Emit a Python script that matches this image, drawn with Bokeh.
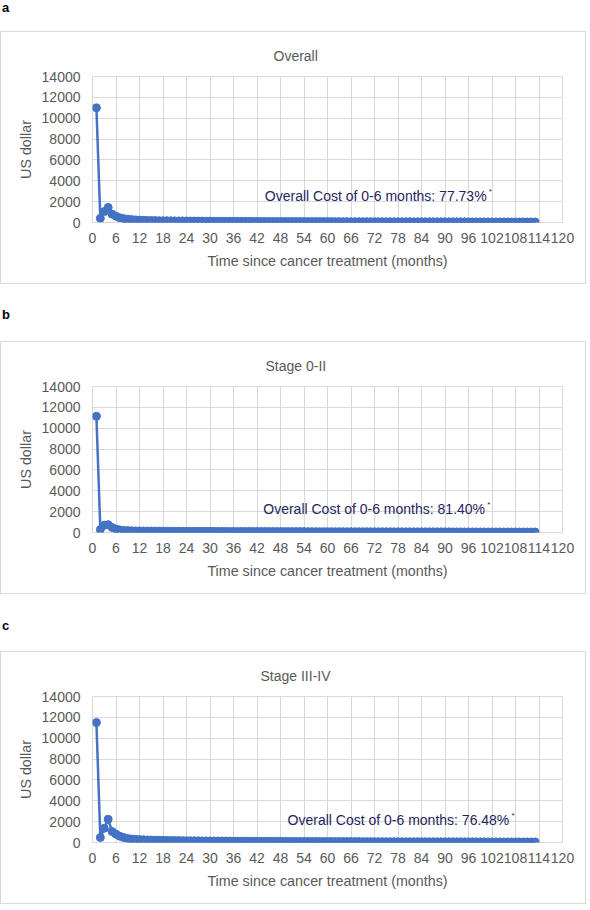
from bokeh.plotting import figure
from bokeh.models import FixedTicker, Label, Div, Range1d
from bokeh.layouts import column
from bokeh.embed import file_html
from bokeh.resources import INLINE

# ---------------- data ----------------
months = list(range(1, 114))

overall = [
    11000, 400, 1050, 1450, 800, 600, 450, 370, 320, 280,
    250, 230, 210, 200, 190, 180, 175, 170, 165, 160,
    155, 150, 148, 145, 140, 138, 135, 132, 130, 128,
    125, 122, 120, 118, 116, 115, 113, 112, 110, 108,
    106, 105, 104, 102, 100, 99, 98, 97, 96, 95,
    94, 93, 92, 91, 90, 89, 88, 87, 86, 85,
    84, 83, 82, 82, 81, 80, 79, 78, 78, 77,
    76, 75, 75, 74, 73, 72, 72, 71, 70, 70,
    69, 68, 68, 67, 66, 66, 65, 64, 64, 63,
    62, 62, 61, 60, 60, 59, 58, 58, 57, 57,
    56, 55, 55, 54, 54, 53, 52, 52, 51, 51,
    50, 50, 49,
]

stage_0_2 = [
    11150, 280, 700, 750, 480, 330, 250, 200, 180, 165,
    155, 150, 145, 140, 138, 135, 132, 130, 128, 126,
    124, 122, 120, 118, 117, 115, 114, 112, 110, 109,
    108, 106, 105, 104, 102, 101, 100, 99, 98, 97,
    96, 95, 94, 93, 92, 91, 90, 89, 88, 87,
    86, 85, 84, 84, 83, 82, 81, 80, 80, 79,
    78, 77, 77, 76, 75, 75, 74, 73, 73, 72,
    71, 71, 70, 69, 69, 68, 68, 67, 66, 66,
    65, 65, 64, 64, 63, 62, 62, 61, 61, 60,
    60, 59, 59, 58, 58, 57, 57, 56, 56, 55,
    55, 54, 54, 53, 53, 52, 52, 51, 51, 50,
    50, 49, 49,
]

stage_3_4 = [
    11500, 480, 1370, 2230, 1050, 800, 600, 470, 380, 330,
    300, 280, 260, 245, 235, 225, 215, 205, 198, 190,
    185, 180, 175, 170, 166, 162, 158, 155, 152, 149,
    146, 143, 140, 138, 135, 133, 131, 129, 127, 125,
    123, 121, 119, 117, 115, 113, 112, 110, 108, 107,
    105, 104, 102, 101, 99, 98, 97, 95, 94, 93,
    92, 90, 89, 88, 87, 86, 85, 84, 83, 82,
    81, 80, 79, 78, 77, 77, 76, 75, 74, 73,
    72, 72, 71, 70, 69, 69, 68, 67, 67, 66,
    65, 65, 64, 63, 63, 62, 62, 61, 60, 60,
    59, 59, 58, 58, 57, 57, 56, 56, 55, 55,
    54, 54, 53,
]

panel_letters = ["a", "b", "c"]
panel_titles = ["Overall", "Stage 0-II", "Stage III-IV"]
cost_shares = ["77.73%", "81.40%", "76.48%"]
x_ticks = list(range(0, 121, 6))
y_ticks = list(range(0, 14001, 2000))

# ---------------- style ----------------
FONT = "Liberation Sans"
BLUE = "#4472C4"
GRID = "#d9d9d9"
TEXT = "#595959"
NAVY = "#1f2560"

title_offsets = [181, 173, 168]
ann_pos = [(44.0, 2500), (43.6, 2250), (49.8, 2150)]
letter_pad = [0, 24, 25]
div_heights = [31, 57, 57]


def make_panel(title, series, share, t_off, apos):
    p = figure(width=586, height=253, x_range=Range1d(0, 120), y_range=Range1d(0, 14000),
               output_backend="svg", toolbar_location=None,
               min_border_left=91, min_border_right=25, min_border_top=43, min_border_bottom=63,
               title=title)
    p.styles = {"border": "1px solid #d9d9d9"}
    p.title.align = "left"
    p.title.offset = t_off
    p.title.standoff = 26
    p.title.text_font = FONT
    p.title.text_font_size = "14px"
    p.title.text_font_style = "normal"
    p.title.text_color = TEXT

    p.xaxis.ticker = FixedTicker(ticks=x_ticks)
    p.yaxis.ticker = FixedTicker(ticks=y_ticks)
    p.xgrid.ticker = FixedTicker(ticks=x_ticks)
    p.ygrid.ticker = FixedTicker(ticks=y_ticks)
    p.grid.grid_line_color = GRID
    p.grid.grid_line_width = 1
    p.outline_line_color = GRID

    for ax in (p.xaxis, p.yaxis):
        ax.axis_line_color = None
        ax.major_tick_line_color = None
        ax.minor_tick_line_color = None
        ax.major_tick_out = 0
        ax.major_tick_in = 0
        ax.minor_tick_out = 0
        ax.minor_tick_in = 0
        ax.major_label_text_font = FONT
        ax.major_label_text_font_size = "14px"
        ax.major_label_text_color = TEXT
        ax.axis_label_text_font = FONT
        ax.axis_label_text_font_size = "14.3px"
        ax.axis_label_text_font_style = "normal"
        ax.axis_label_text_color = TEXT
    p.xaxis.axis_label = "Time since cancer treatment (months)"
    p.yaxis.axis_label = "US dollar"
    p.xaxis.major_label_standoff = 10
    p.yaxis.major_label_standoff = 12
    p.xaxis.axis_label_standoff = 7
    p.yaxis.axis_label_standoff = 5

    p.line(months, series, line_color=BLUE, line_width=2.5)
    p.scatter(months, series, size=8, color=BLUE)

    lab = Label(x=apos[0], y=apos[1], text="Overall Cost of 0-6 months: " + share,
                text_font=FONT, text_font_size="14px", text_color=NAVY,
                text_baseline="middle")
    star = Label(x=apos[0], y=apos[1], x_offset=224, y_offset=5, text="*",
                 text_font=FONT, text_font_size="8px", text_color=NAVY,
                 text_baseline="middle")
    p.add_layout(lab)
    p.add_layout(star)
    return p


series_list = [overall, stage_0_2, stage_3_4]
items = []
for i in range(3):
    d = Div(text=f'<div style="padding-top:{letter_pad[i]}px;padding-left:2px;font-family:{FONT};'
                 f'font-size:13px;font-weight:bold;color:#000;line-height:13px">{panel_letters[i]}</div>',
            width=590, height=div_heights[i], margin=0)
    items.append(d)
    items.append(make_panel(panel_titles[i], series_list[i], cost_shares[i], title_offsets[i], ann_pos[i]))

layout = column(*items, spacing=0)
open("out.html", "w").write(file_html(layout, INLINE))
